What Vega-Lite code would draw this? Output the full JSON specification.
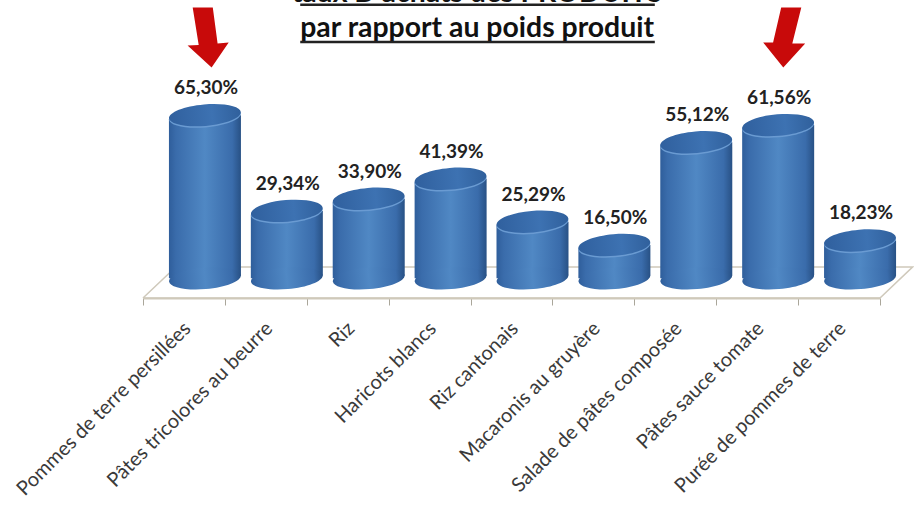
{
"$schema":"https://vega.github.io/schema/vega-lite/v6.json",
"width":737,"height":222,
"autosize":{"type":"none"},
"padding":{"left":143,"top":76,"right":34,"bottom":207},
"background":"white",
"config":{"view":{"stroke":null},"font":"Lato"},
"datasets":{
"bars":[
{"produit":"Pommes de terre persillées","taux":65.30,"label":"65,30%","base":4},
{"produit":"Pâtes tricolores au beurre","taux":29.34,"label":"29,34%","base":4},
{"produit":"Riz","taux":33.90,"label":"33,90%","base":4},
{"produit":"Haricots blancs","taux":41.39,"label":"41,39%","base":4},
{"produit":"Riz cantonais","taux":25.29,"label":"25,29%","base":4},
{"produit":"Macaronis au gruyère","taux":16.50,"label":"16,50%","base":4},
{"produit":"Salade de pâtes composée","taux":55.12,"label":"55,12%","base":4},
{"produit":"Pâtes sauce tomate","taux":61.56,"label":"61,56%","base":4},
{"produit":"Purée de pommes de terre","taux":18.23,"label":"18,23%","base":4}],
"floor":[{"p":0,"v":-3.38,"o":0},{"p":9,"v":-3.38,"o":1},{"p":9.4,"v":8.3,"o":2},{"p":0.4,"v":8.3,"o":3},{"p":0,"v":-3.38,"o":4}],
"arrows":[{"p":0.79,"v":94.5,"side":"a"},{"p":7.83,"v":94.5,"side":"b"}],
"title":[{"p":4.08,"v":111,"t":"taux D'achats des PRODUITS"},{"p":4.08,"v":98,"t":"par rapport au poids produit"}],
"under":[{"p":1.92,"p2":6.25,"v":106.8},{"p":1.92,"p2":6.25,"v":92.8}]
},
"layer":[
{"data":{"name":"floor"},"mark":{"type":"line","color":"#cfc9bb","strokeWidth":1.5},
 "encoding":{"x":{"field":"p","type":"quantitative","axis":null,"scale":{"domain":[0,9],"nice":false,"zero":false}},
 "y":{"field":"v","type":"quantitative","axis":null,"scale":{"domain":[-3.38,80],"nice":false,"zero":false}},"order":{"field":"o"}}},
{"layer":[
 {"mark":{"type":"bar","size":72,"xOffset":21,"cornerRadiusTopLeft":4,"cornerRadiusBottomRight":4,"color":{"gradient":"linear","x1":0,"x2":1,"y1":0,"y2":0,"stops":[{"offset":0,"color":"#2f5e9b"},{"offset":0.1,"color":"#3a6cab"},{"offset":0.5,"color":"#5088c4"},{"offset":0.88,"color":"#3a6cab"},{"offset":1,"color":"#285185"}]}},
  "encoding":{"y":{"field":"taux","type":"quantitative"},"y2":{"field":"base"}}},
 {"mark":{"type":"point","filled":true,"opacity":1,"size":5184,"xOffset":21,"angle":-5,"shape":"M-1,0A1,0.3,0,1,1,1,0A1,0.3,0,1,1,-1,0Z","color":{"gradient":"linear","x1":0,"x2":1,"y1":0,"y2":0,"stops":[{"offset":0,"color":"#2f5e9b"},{"offset":0.1,"color":"#3a6cab"},{"offset":0.5,"color":"#5088c4"},{"offset":0.88,"color":"#3a6cab"},{"offset":1,"color":"#285185"}]}},
  "encoding":{"y":{"field":"base","type":"quantitative"}}},
 {"mark":{"type":"point","filled":true,"opacity":1,"size":5184,"xOffset":21,"yOffset":1.5,"angle":-5,"shape":"M-1,0A1,0.3,0,1,1,1,0A1,0.3,0,1,1,-1,0Z","color":"#6a9bd2"},
  "encoding":{"y":{"field":"taux","type":"quantitative"}}},
 {"mark":{"type":"point","filled":true,"opacity":1,"size":5184,"xOffset":21,"angle":-5,"shape":"M-1,0A1,0.3,0,1,1,1,0A1,0.3,0,1,1,-1,0Z","color":{"gradient":"linear","x1":0,"x2":1,"y1":0,"y2":0,"stops":[{"offset":0,"color":"#30609e"},{"offset":0.6,"color":"#3d72b2"},{"offset":1,"color":"#30609c"}]}},
  "encoding":{"y":{"field":"taux","type":"quantitative"}}},
 {"mark":{"type":"text","fontWeight":"bold","fontSize":19,"color":"#222222","dx":22,"dy":-27,"font":"Lato"},
  "encoding":{"y":{"field":"taux","type":"quantitative"},"text":{"field":"label"}}}
 ],
 "data":{"name":"bars"},
 "encoding":{"x":{"field":"produit","type":"nominal","sort":null,"title":null,"scale":{"paddingInner":0,"paddingOuter":0},
  "axis":{"labelAngle":-45,"labelAlign":"right","labelBaseline":"top","labelFontSize":20,"labelColor":"#3a3a3a","labelFont":"Lato","labelPadding":13,"labelOffset":-4,"labelLimit":320,"domainColor":"#cfc9bb","domainWidth":2,"tickColor":"#aaa69a","tickSize":7,"tickBand":"extent","grid":false}}}
},
{"data":{"name":"arrows"},"mark":{"type":"point","filled":true,"opacity":1,"color":"#c80a0a","size":3600},
 "encoding":{"x":{"field":"p","type":"quantitative","axis":null,"scale":{"domain":[0,9],"nice":false,"zero":false}},"y":{"field":"v","type":"quantitative"},
 "shape":{"field":"side","type":"nominal","legend":null,"scale":{"domain":["a","b"],"range":["M-0.5,-1L0.17,-1L0.33,0.2L0.7,0.17L0.13,1L-0.67,0.27L-0.3,0.25Z","M-0.1,-1L0.57,-1L0.27,0.2L0.7,0.2L-0.03,1L-0.7,0.17L-0.37,0.17Z"]}}}},
{"data":{"name":"title"},"mark":{"type":"text","fontWeight":"bold","fontSize":28.4,"color":"#111111","font":"Lato"},
 "encoding":{"x":{"field":"p","type":"quantitative","axis":null,"scale":{"domain":[0,9],"nice":false,"zero":false}},"y":{"field":"v","type":"quantitative"},"text":{"field":"t"}}},
{"data":{"name":"under"},"mark":{"type":"rule","color":"#222222","strokeWidth":2.5},
 "encoding":{"x":{"field":"p","type":"quantitative","axis":null,"scale":{"domain":[0,9],"nice":false,"zero":false}},"x2":{"field":"p2"},"y":{"field":"v","type":"quantitative"}}}
],
"resolve":{"scale":{"x":"independent"}}
}
